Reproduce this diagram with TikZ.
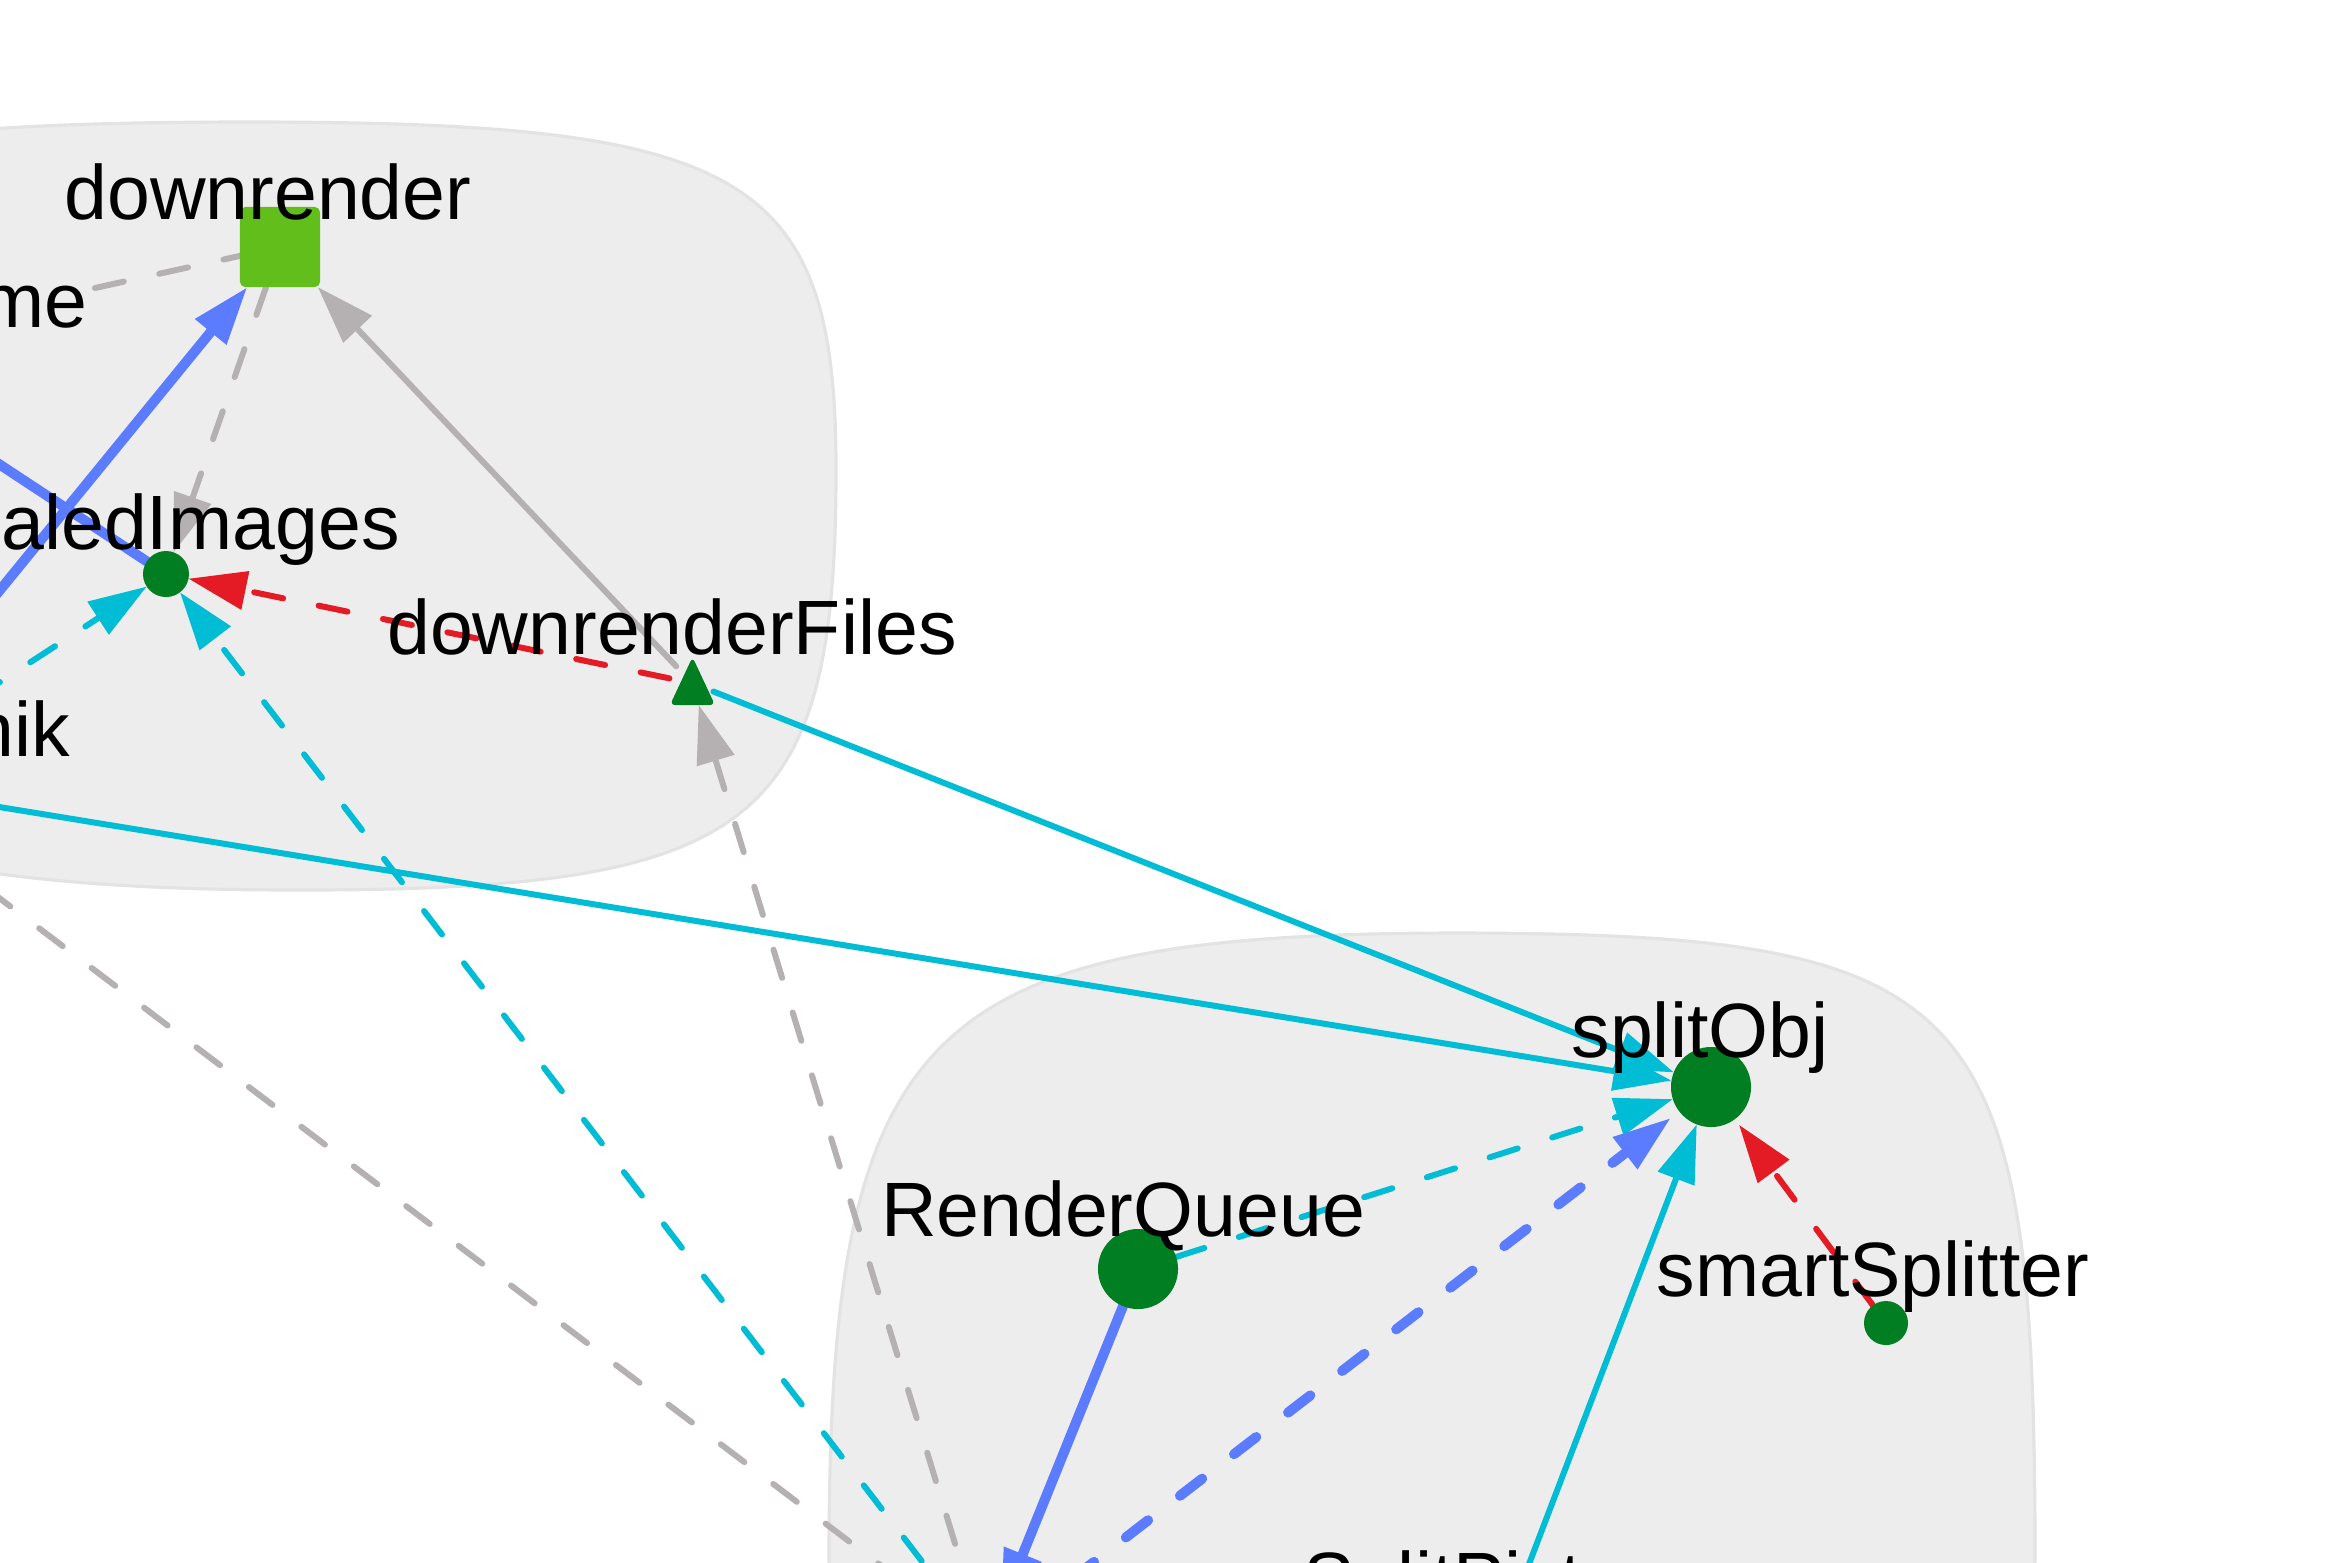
\documentclass[tikz,border=0pt]{standalone}
\usepackage{fontspec}
\setmainfont{Liberation Sans}
\usetikzlibrary{arrows.meta}
\definecolor{cblue}{RGB}{91,124,255}
\definecolor{ccyan}{RGB}{0,188,212}
\definecolor{cgray}{RGB}{181,176,177}
\definecolor{cred}{RGB}{228,27,37}
\definecolor{cdg}{RGB}{2,126,34}
\definecolor{clg}{RGB}{98,190,26}
\definecolor{cfill}{RGB}{237,237,237}
\definecolor{cbord}{RGB}{227,227,227}
\pgfdeclarelayer{bg}
\pgfdeclarelayer{edge}
\pgfsetlayers{bg,edge,main}
\tikzset{
  ah/.style={-{Triangle[length=16.5pt,width=10.8pt]}},
  bl/.style={draw=cblue, line width=2.85pt, line cap=round},
  cy/.style={draw=ccyan, line width=1.7pt, line cap=round},
  gr/.style={draw=cgray, line width=1.7pt, line cap=round},
  rd/.style={draw=cred, line width=1.7pt, line cap=round},
  dsh/.style={dash pattern=on 8.4pt off 10.3pt},
  bdsh/.style={dash pattern=on 8pt off 11.4pt},
  dot/.style={circle, fill=cdg, inner sep=0pt, outer sep=0pt},
  hid/.style={circle, inner sep=0pt, outer sep=0pt},
  lab/.style={font=\fontsize{21.9pt}{26pt}\selectfont, inner sep=0pt, anchor=base, text=black},
  clus/.style={fill=cfill, draw=cbord, line width=0.9pt}
}
\begin{document}
\begin{tikzpicture}[x=0.01cm,y=-0.01cm]
\useasboundingbox (0,0) rectangle (2352,1562);
\clip (0,0) rectangle (2352,1562);
\begin{pgfonlayer}{bg}
\fill[white] (0,0) rectangle (2352,1562);
% top-left cluster
\path[clus] (250,122) .. controls (748,122) and (836,174) .. (836,470)
  .. controls (836,827) and (756,890) .. (300,890)
  .. controls (-150,890) and (-400,820) .. (-400,500)
  .. controls (-400,179) and (-302,122) .. (250,122) -- cycle;
% bottom-right cluster
\path[clus] (1460,933) .. controls (1981,934) and (2035,997) .. (2035,1560)
  -- (2035,1700) -- (829,1700) -- (829,1560)
  .. controls (829,1027) and (918,933) .. (1460,933) -- cycle;
\end{pgfonlayer}

% nodes
\node[draw=none, fill=clg, rounded corners=1.5pt, minimum size=0.8cm, inner sep=0pt, outer sep=0pt] (dr) at (280,247) {};
\node[dot, minimum size=0.46cm] (si) at (166,574) {};
\node[hid, minimum size=0.46cm] (df) at (692,683) {};
\fill[cdg, rounded corners=1.5pt] (670,705) -- (715,705) -- (692.5,657) -- cycle;
\node[dot, minimum size=0.80cm] (so) at (1711,1087) {};
\node[dot, minimum size=0.80cm] (rq) at (1138,1269) {};
\node[dot, minimum size=0.44cm] (ss) at (1886,1323) {};
\node[dot, minimum size=0.80cm] (hub) at (986,1645) {};
\node[dot, minimum size=0.80cm] (sp) at (1500,1640) {};

% off-page ends
\coordinate (lme) at (95,288);
\coordinate (lb1) at (-80,688);
\coordinate (lb2) at (-80,412);
\coordinate (lc1) at (-80,734);
\coordinate (lc2) at (-80,794);
\coordinate (lg1) at (-80,838);

\begin{pgfonlayer}{edge}
\draw[gr, dsh] (lme) -- (dr);
\draw[bl, ah] (lb1) -- (dr);
\draw[bl] (lb2) -- (si);
\draw[gr, dsh, ah] (dr) -- (si);
\draw[gr, ah] (df) -- (dr);
\draw[rd, dsh, ah] (df) -- (si);
\draw[cy, dsh, ah] (lc1) -- (si);
\draw[cy, dsh, ah] (hub) -- (si);
\draw[cy, ah] (df) -- (so);
\draw[cy, ah] (lc2) -- (so);
\draw[gr, dsh] (hub) -- (lg1);
\draw[gr, dsh, ah] (hub) -- (df);
\draw[cy, dsh, ah] (rq) -- (so);
\draw[bl, bdsh, ah, shorten >=3pt] (hub) -- (so);
\draw[cy, ah] (sp) -- (so);
\draw[rd, dsh, ah, shorten >=2pt] (ss) -- (so);
\draw[bl, ah] (rq) -- (hub);
\end{pgfonlayer}

% labels
\node[lab] (l-dr) at (268,219) {downrender};
\node[lab] (l-si) at (162,549) {scaledImages};
\node[lab] (l-df) at (672,654) {downrenderFiles};
\node[lab] (l-so) at (1700,1057) {splitObj};
\node[lab] (l-rq) at (1123,1236) {RenderQueue};
\node[lab] (l-ss) at (1873,1296) {smartSplitter};
\node[lab, anchor=base west] (l-sp) at (1303,1606) {SplitPict};
\node[lab, anchor=base east] (l-me) at (88,327) {me};
\node[lab, anchor=base east] (l-nik) at (71,756) {nik};
\end{tikzpicture}
\end{document}
